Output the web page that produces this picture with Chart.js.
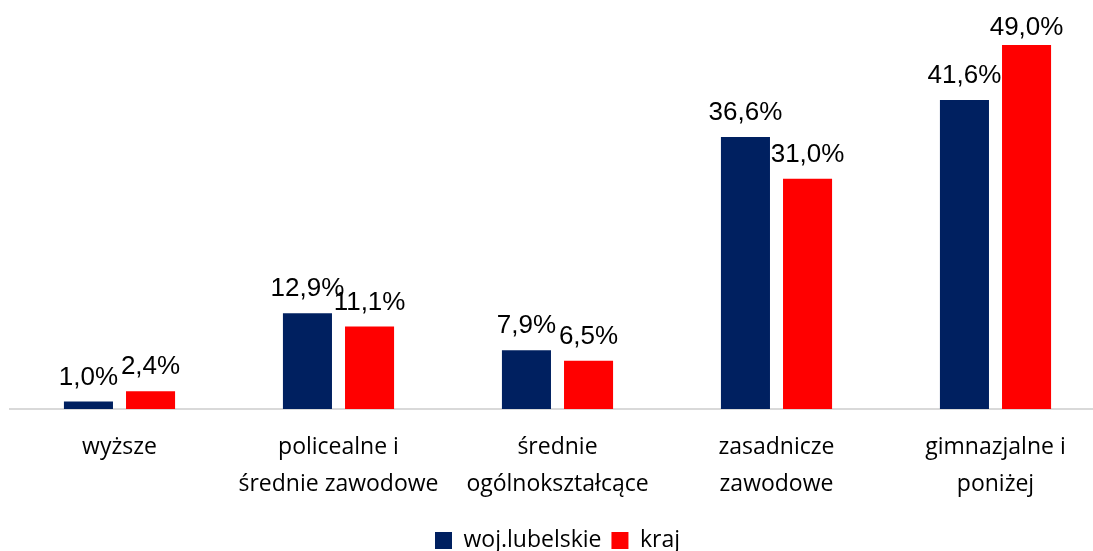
<!DOCTYPE html>
<html>
<head>
<meta charset="utf-8">
<script src="https://cdn.jsdelivr.net/npm/chart.js@4"></script>
<style>
    html, body { margin: 0; padding: 0; background: #fff; overflow: hidden; }
    #wrap { width: 1105px; height: 551px; }
</style>
</head>
<body>
<div id="wrap"><canvas id="eduChart" width="1105" height="551"></canvas></div>
<script>
// Data
const categories = [
    'wyższe',
    ['policealne i', 'średnie zawodowe'],
    ['średnie', 'ogólnokształcące'],
    ['zasadnicze', 'zawodowe'],
    ['gimnazjalne i', 'poniżej']
];
const lubelskie = [1.0, 12.9, 7.9, 36.6, 41.6];
const kraj = [2.4, 11.1, 6.5, 31.0, 49.0];

// Draw value labels above bars
const valueLabels = {
    id: 'valueLabels',
    afterDatasetsDraw(chart) {
        const ctx = chart.ctx;
        ctx.save();
        ctx.font = '26px "Liberation Sans", Arial, sans-serif';
        ctx.fillStyle = '#000';
        ctx.textAlign = 'center';
        ctx.textBaseline = 'alphabetic';
        chart.data.datasets.forEach(function(ds, i) {
            chart.getDatasetMeta(i).data.forEach(function(bar, j) {
                const text = ds.data[j].toFixed(1).replace('.', ',') + '%';
                const y = Math.max(bar.y - 17, 35);
                ctx.fillText(text, bar.x, y);
            });
        });
        ctx.restore();
    }
};

const ctx = document.getElementById('eduChart').getContext('2d');
new Chart(ctx, {
    type: 'bar',
    data: {
        labels: categories,
        datasets: [{
            label: 'woj.lubelskie',
            data: lubelskie,
            backgroundColor: '#002060',
            categoryPercentage: 0.567,
            barPercentage: 0.79
        }, {
            label: 'kraj',
            data: kraj,
            backgroundColor: '#ff0000',
            categoryPercentage: 0.567,
            barPercentage: 0.79
        }]
    },
    options: {
        responsive: false,
        animation: false,
        layout: {
            padding: { top: 45, left: 10, right: 0, bottom: -11 }
        },
        plugins: {
            legend: {
                position: 'bottom',
                labels: {
                    boxWidth: 17,
                    boxHeight: 17,
                    padding: 10,
                    color: '#000',
                    font: { family: '"Open Sans", sans-serif', size: 23 }
                }
            },
            tooltip: { enabled: false }
        },
        scales: {
            x: {
                grid: { display: false },
                border: { display: true, color: '#d9d9d9', width: 2 },
                ticks: {
                    color: '#000',
                    padding: 12,
                    maxRotation: 0,
                    autoSkip: false,
                    font: { family: '"Open Sans", sans-serif', size: 23, lineHeight: 1.6 }
                },
                afterFit: function(scale) {
                    scale.height = 110;
                }
            },
            y: {
                display: false,
                min: 0,
                max: 49
            }
        }
    },
    plugins: [valueLabels]
});
</script>
</body>
</html>
